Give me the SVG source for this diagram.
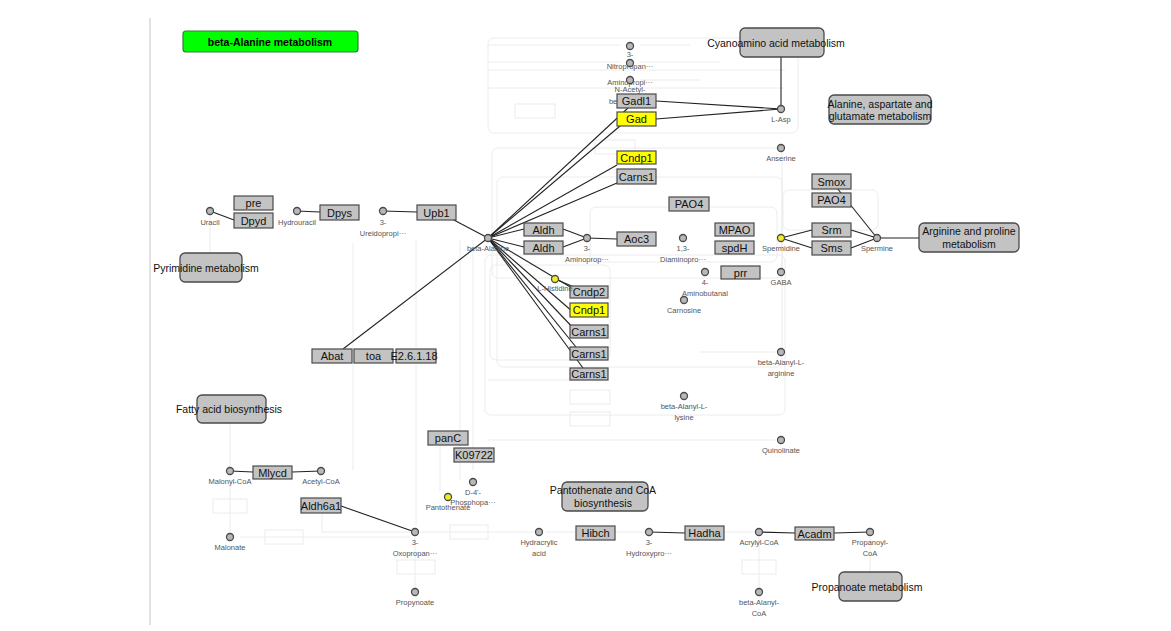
<svg xmlns="http://www.w3.org/2000/svg" width="1171" height="631" viewBox="0 0 1171 631">
<style>
text{font-family:"Liberation Sans",Arial,sans-serif}
.g rect{fill:#c3c3c3;stroke:#4a4a4a;stroke-width:1.2}
.g.y rect{fill:#ffff00}
.g text{font-size:11px;fill:#111;text-anchor:middle}
.c circle{fill:#b8b8b8;stroke:#4a4a4a;stroke-width:1.3}
.c.y circle{fill:#f0f020}
.c text{font-size:7.5px;fill:#555;text-anchor:middle}
.m rect{fill:#c3c3c3;stroke:#4a4a4a;stroke-width:1.3}
.m text{font-size:10.5px;fill:#111;text-anchor:middle}
.e line{stroke:#222;stroke-width:1.1}
.f{fill:none;stroke:#ececec;stroke-width:1}
</style>
<rect width="1171" height="631" fill="#fff"/>
<g id="faint">
<line x1="150" y1="18" x2="150" y2="625" stroke="#e2e2e2" stroke-width="2"/>
<path class="f" d="M488 70 H785 M488 88 H785 M488 45 H620 M488 62 H620 M640 45 H690 M640 62 H720 M640 80 H700"/>
<rect class="f" x="488" y="38" width="310" height="95" rx="6"/>
<rect class="f" x="515" y="104" width="40" height="14"/>
<rect class="f" x="595" y="140" width="40" height="14"/>
<rect class="f" x="492" y="148" width="290" height="130" rx="6"/>
<rect class="f" x="497" y="177" width="285" height="190" rx="6"/>
<rect class="f" x="590" y="207" width="187" height="55" rx="6"/>
<rect class="f" x="783" y="190" width="95" height="40" rx="6"/>
<rect class="f" x="485" y="255" width="300" height="160" rx="6"/>
<rect class="f" x="490" y="265" width="120" height="95" rx="6"/>
<rect class="f" x="570" y="390" width="40" height="14"/>
<rect class="f" x="570" y="412" width="40" height="14"/>
<path class="f" d="M210 215 V253 M230 423 V467 M230 480 V533 M353 243 V470 M416 240 V525 M322 495 V532 H410 M460 240 V480 M473 240 V470 M440 440 V492 M415 537 V588 M420 532 H535 M545 532 H575 M615 532 H645 M724 532 H755 M759 537 V588 M870 537 V572 M240 537 H410 M488 440 H775 M700 352 H775 M488 380 H600"/>
<rect class="f" x="213" y="499" width="34" height="14"/>
<rect class="f" x="265" y="530" width="38" height="14"/>
<rect class="f" x="450" y="525" width="38" height="14"/>
<rect class="f" x="397" y="560" width="38" height="14"/>
<rect class="f" x="742" y="560" width="34" height="14"/>
</g>
<g id="title"><rect x="183" y="31" width="175" height="21" rx="3" fill="#00ff00" stroke="#3a7a3a" stroke-width="1.2"/><text x="270" y="45.5" font-size="10.5" font-weight="bold" text-anchor="middle">beta-Alanine metabolism</text></g>
<g id="connectors" class="e">
<line x1="452" y1="219" x2="488" y2="238"/>
<line x1="343" y1="349" x2="488" y2="238"/>
<line x1="488" y1="238" x2="628" y2="108"/>
<line x1="488" y1="238" x2="620" y2="126"/>
<line x1="488" y1="238" x2="617" y2="165"/>
<line x1="488" y1="238" x2="617" y2="183"/>
<line x1="488" y1="238" x2="524" y2="229"/>
<line x1="488" y1="238" x2="524" y2="247"/>
<line x1="563" y1="229" x2="587" y2="238"/>
<line x1="563" y1="247" x2="587" y2="238"/>
<line x1="587" y1="238" x2="617" y2="239"/>
<line x1="488" y1="238" x2="572" y2="288"/>
<line x1="488" y1="238" x2="573" y2="312"/>
<line x1="488" y1="238" x2="576" y2="331"/>
<line x1="488" y1="238" x2="580" y2="352"/>
<line x1="488" y1="238" x2="583" y2="368"/>
<line x1="555" y1="279" x2="574" y2="287"/>
<line x1="656" y1="101" x2="781" y2="109"/>
<line x1="656" y1="119" x2="781" y2="109"/>
<line x1="781" y1="109" x2="781" y2="57"/>
<line x1="781" y1="238" x2="812" y2="230"/>
<line x1="781" y1="238" x2="812" y2="248"/>
<line x1="851" y1="230" x2="877" y2="238"/>
<line x1="851" y1="248" x2="877" y2="238"/>
<line x1="837" y1="188" x2="877" y2="238"/>
<line x1="877" y1="238" x2="919" y2="238"/>
<line x1="210" y1="211" x2="234" y2="220"/>
<line x1="297" y1="211" x2="320" y2="212"/>
<line x1="383" y1="211" x2="417" y2="212"/>
<line x1="230" y1="471" x2="253" y2="472"/>
<line x1="292" y1="472" x2="321" y2="471"/>
<line x1="341" y1="506" x2="415" y2="532"/>
<line x1="649" y1="532" x2="685" y2="533"/>
<line x1="759" y1="532" x2="795" y2="533"/>
<line x1="834" y1="533" x2="870" y2="532"/>
</g>
<g id="map-pyrimidine" class="m"><rect x="180" y="253" width="62" height="29" rx="5"/><text x="206" y="271.5">Pyrimidine metabolism</text></g>
<g id="map-cyano" class="m"><rect x="740" y="28" width="84" height="29" rx="5"/><text x="776" y="47">Cyanoamino acid metabolism</text></g>
<g id="map-ala" class="m"><rect x="829" y="95" width="102" height="29" rx="5"/><text x="880" y="107.5">Alanine, aspartate and</text><text x="880" y="120">glutamate metabolism</text></g>
<g id="map-arg" class="m"><rect x="919" y="223" width="100" height="29" rx="5"/><text x="969" y="235">Arginine and proline</text><text x="969" y="248">metabolism</text></g>
<g id="map-fatty" class="m"><rect x="197" y="395" width="69" height="28" rx="5"/><text x="229" y="412.5">Fatty acid biosynthesis</text></g>
<g id="map-panto" class="m"><rect x="562" y="482" width="86" height="29" rx="5"/><text x="603" y="494">Pantothenate and CoA</text><text x="603" y="507">biosynthesis</text></g>
<g id="map-propanoate" class="m"><rect x="839" y="572" width="63" height="29" rx="5"/><text x="867" y="590.5">Propanoate metabolism</text></g>
<g id="c-nitro" class="c"><circle cx="630" cy="46" r="3.5"/><text x="630" y="57">3-</text><text x="630" y="69">Nitropropan···</text></g>
<g id="c-aminopropi" class="c"><circle cx="630" cy="63" r="3.5"/><text x="630" y="85">Aminopropi···</text></g>
<g id="c-nacetyl" class="c"><circle cx="630" cy="80" r="3.5"/><text x="630" y="92">N-Acetyl-</text><text x="630" y="104">beta-Alanine</text></g>
<g id="g-pre" class="g"><rect x="234" y="196" width="39" height="14"/><text x="253.5" y="207">pre</text></g>
<g id="g-dpyd" class="g"><rect x="234" y="213" width="39" height="15"/><text x="253.5" y="224.5">Dpyd</text></g>
<g id="g-dpys" class="g"><rect x="320" y="205" width="39" height="15"/><text x="339.5" y="216.5">Dpys</text></g>
<g id="g-upb1" class="g"><rect x="417" y="205" width="39" height="15"/><text x="436.5" y="216.5">Upb1</text></g>
<g id="g-abat" class="g"><rect x="312" y="349" width="40" height="14"/><text x="332" y="360">Abat</text></g>
<g id="g-toa" class="g"><rect x="354" y="349" width="39" height="14"/><text x="373.5" y="360">toa</text></g>
<g id="g-e26118" class="g"><rect x="396" y="349" width="40" height="14"/><text x="414" y="360">E2.6.1.18</text></g>
<g id="g-gadl1" class="g"><rect x="617" y="94" width="39" height="14"/><text x="636.5" y="105">Gadl1</text></g>
<g id="g-gad" class="g y"><rect x="617" y="112" width="39" height="14"/><text x="636.5" y="123">Gad</text></g>
<g id="g-cndp1a" class="g y"><rect x="617" y="151" width="39" height="13"/><text x="636.5" y="161.5">Cndp1</text></g>
<g id="g-carns1a" class="g"><rect x="617" y="169" width="39" height="15"/><text x="636.5" y="180.5">Carns1</text></g>
<g id="g-pao4a" class="g"><rect x="669" y="197" width="40" height="14"/><text x="689" y="208">PAO4</text></g>
<g id="g-aldh1" class="g"><rect x="524" y="223" width="39" height="13"/><text x="543.5" y="233.5">Aldh</text></g>
<g id="g-aldh2" class="g"><rect x="524" y="241" width="39" height="13"/><text x="543.5" y="251.5">Aldh</text></g>
<g id="g-aoc3" class="g"><rect x="617" y="232" width="39" height="14"/><text x="636.5" y="243">Aoc3</text></g>
<g id="g-mpao" class="g"><rect x="715" y="223" width="39" height="13"/><text x="734.5" y="233.5">MPAO</text></g>
<g id="g-spdh" class="g"><rect x="715" y="241" width="39" height="13"/><text x="734.5" y="251.5">spdH</text></g>
<g id="g-prr" class="g"><rect x="721" y="266" width="39" height="13"/><text x="740.5" y="276.5">prr</text></g>
<g id="g-cndp2" class="g"><rect x="570" y="286" width="38" height="12"/><text x="589" y="296">Cndp2</text></g>
<g id="g-cndp1b" class="g y"><rect x="570" y="303" width="38" height="14"/><text x="589" y="314">Cndp1</text></g>
<g id="g-carns1b" class="g"><rect x="570" y="325" width="38" height="13"/><text x="589" y="335.5">Carns1</text></g>
<g id="g-carns1c" class="g"><rect x="570" y="347" width="38" height="13"/><text x="589" y="357.5">Carns1</text></g>
<g id="g-carns1d" class="g"><rect x="570" y="368" width="38" height="12"/><text x="589" y="378">Carns1</text></g>
<g id="g-smox" class="g"><rect x="812" y="174" width="39" height="15"/><text x="831.5" y="185.5">Smox</text></g>
<g id="g-pao4b" class="g"><rect x="812" y="193" width="39" height="14"/><text x="831.5" y="204">PAO4</text></g>
<g id="g-srm" class="g"><rect x="812" y="223" width="39" height="14"/><text x="831.5" y="234">Srm</text></g>
<g id="g-sms" class="g"><rect x="812" y="241" width="39" height="14"/><text x="831.5" y="252">Sms</text></g>
<g id="g-mlycd" class="g"><rect x="253" y="466" width="39" height="13"/><text x="272.5" y="476.5">Mlycd</text></g>
<g id="g-aldh6a1" class="g"><rect x="301" y="498" width="40" height="15"/><text x="321" y="509.5">Aldh6a1</text></g>
<g id="g-panc" class="g"><rect x="428" y="431" width="40" height="14"/><text x="448" y="442">panC</text></g>
<g id="g-k09722" class="g"><rect x="454" y="448" width="40" height="14"/><text x="474" y="459">K09722</text></g>
<g id="g-hibch" class="g"><rect x="576" y="526" width="39" height="14"/><text x="595.5" y="537">Hibch</text></g>
<g id="g-hadha" class="g"><rect x="685" y="526" width="39" height="14"/><text x="704.5" y="537">Hadha</text></g>
<g id="g-acadm" class="g"><rect x="795" y="527" width="39" height="13"/><text x="814.5" y="537.5">Acadm</text></g>
<g id="c-uracil" class="c"><circle cx="210" cy="211" r="3.5"/><text x="210" y="225">Uracil</text></g>
<g id="c-hydrouracil" class="c"><circle cx="297" cy="211" r="3.5"/><text x="297" y="225">Hydrouracil</text></g>
<g id="c-ureido" class="c"><circle cx="383" cy="211" r="3.5"/><text x="383" y="225">3-</text><text x="383" y="236">Ureidopropi···</text></g>
<g id="c-betaala" class="c"><circle cx="488" cy="238" r="3.5"/><text x="488" y="251">beta-Alanine</text></g>
<g id="c-lasp" class="c"><circle cx="781" cy="109" r="3.5"/><text x="781" y="122">L-Asp</text></g>
<g id="c-anserine" class="c"><circle cx="781" cy="148" r="3.5"/><text x="781" y="161">Anserine</text></g>
<g id="c-aminoprop" class="c"><circle cx="587" cy="238" r="3.5"/><text x="587" y="251">3-</text><text x="587" y="262">Aminoprop···</text></g>
<g id="c-diamino" class="c"><circle cx="683" cy="238" r="3.5"/><text x="683" y="251">1,3-</text><text x="683" y="262">Diaminopro···</text></g>
<g id="c-spermidine" class="c y"><circle cx="781" cy="238" r="3.5"/><text x="781" y="251">Spermidine</text></g>
<g id="c-spermine" class="c"><circle cx="877" cy="238" r="3.5"/><text x="877" y="251">Spermine</text></g>
<g id="c-aminobutanal" class="c"><circle cx="705" cy="272" r="3.5"/><text x="705" y="285">4-</text><text x="705" y="296">Aminobutanal</text></g>
<g id="c-gaba" class="c"><circle cx="781" cy="272" r="3.5"/><text x="781" y="285">GABA</text></g>
<g id="c-lhis" class="c y"><circle cx="555" cy="279" r="3.5"/><text x="555" y="291">L-Histidine</text></g>
<g id="c-carnosine" class="c"><circle cx="684" cy="300" r="3.5"/><text x="684" y="313">Carnosine</text></g>
<g id="c-alanylarg" class="c"><circle cx="781" cy="352" r="3.5"/><text x="781" y="365">beta-Alanyl-L-</text><text x="781" y="376">arginine</text></g>
<g id="c-alanyllys" class="c"><circle cx="684" cy="396" r="3.5"/><text x="684" y="409">beta-Alanyl-L-</text><text x="684" y="420">lysine</text></g>
<g id="c-quinolinate" class="c"><circle cx="781" cy="440" r="3.5"/><text x="781" y="453">Quinolinate</text></g>
<g id="c-malonylcoa" class="c"><circle cx="230" cy="471" r="3.5"/><text x="230" y="484">Malonyl-CoA</text></g>
<g id="c-acetylcoa" class="c"><circle cx="321" cy="471" r="3.5"/><text x="321" y="484">Acetyl-CoA</text></g>
<g id="c-d4p" class="c"><circle cx="473" cy="482" r="3.5"/><text x="473" y="495">D-4'-</text><text x="473" y="505">Phosphopa···</text></g>
<g id="c-panto" class="c y"><circle cx="448" cy="497" r="3.5"/><text x="448" y="510">Pantothenate</text></g>
<g id="c-oxoprop" class="c"><circle cx="415" cy="532" r="3.5"/><text x="415" y="545">3-</text><text x="415" y="556">Oxopropan···</text></g>
<g id="c-malonate" class="c"><circle cx="230" cy="537" r="3.5"/><text x="230" y="550">Malonate</text></g>
<g id="c-propynoate" class="c"><circle cx="415" cy="592" r="3.5"/><text x="415" y="605">Propynoate</text></g>
<g id="c-hydracrylic" class="c"><circle cx="539" cy="532" r="3.5"/><text x="539" y="545">Hydracrylic</text><text x="539" y="556">acid</text></g>
<g id="c-hydroxypro" class="c"><circle cx="649" cy="532" r="3.5"/><text x="649" y="545">3-</text><text x="649" y="556">Hydroxypro···</text></g>
<g id="c-acrylylcoa" class="c"><circle cx="759" cy="532" r="3.5"/><text x="759" y="545">Acrylyl-CoA</text></g>
<g id="c-propanoylcoa" class="c"><circle cx="870" cy="532" r="3.5"/><text x="870" y="545">Propanoyl-</text><text x="870" y="556">CoA</text></g>
<g id="c-alanylcoa" class="c"><circle cx="759" cy="592" r="3.5"/><text x="759" y="605">beta-Alanyl-</text><text x="759" y="616">CoA</text></g>
</svg>
